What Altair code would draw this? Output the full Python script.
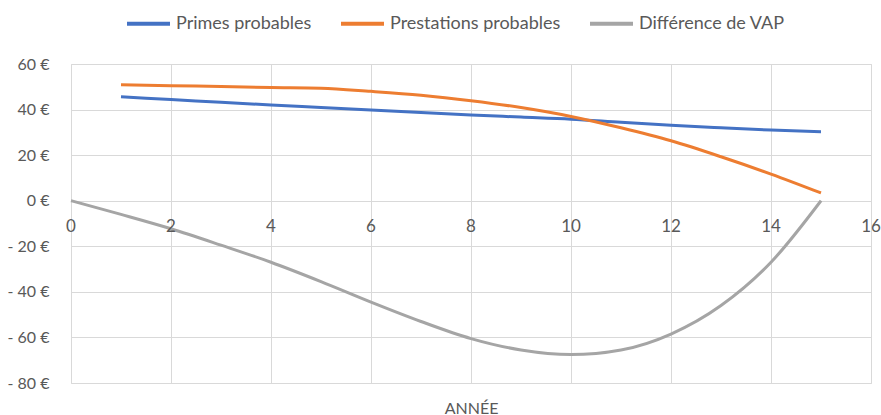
import altair as alt
import pandas as pd

years_p = list(range(1, 16))
primes = [45.6, 44.4, 43.2, 42.0, 40.9, 39.8, 38.7, 37.6, 36.7, 35.8, 34.4, 33.1, 32.0, 31.0, 30.3]
prestations = [50.9, 50.5, 50.1, 49.7, 49.4, 48.0, 46.3, 43.9, 40.9, 37.0, 32.0, 26.3, 19.3, 11.7, 3.4]
years_d = list(range(0, 16))
difference = [0, -6, -12.3, -19.5, -27, -35.5, -44.5, -53, -60.5, -65.5, -67.5, -65.5, -58.5, -46, -27, 0]
x_ticks = [0, 2, 4, 6, 8, 10, 12, 14, 16]
y_ticks = [-80, -60, -40, -20, 0, 20, 40, 60]

series = ["Primes probables", "Prestations probables", "Différence de VAP"]
colors = ["#4472C4", "#ED7D31", "#A5A5A5"]

rows = []
for x, v in zip(years_p, primes):
    rows.append({"annee": x, "valeur": v, "serie": series[0], "ordre": 0})
for x, v in zip(years_p, prestations):
    rows.append({"annee": x, "valeur": v, "serie": series[1], "ordre": 1})
for x, v in zip(years_d, difference):
    rows.append({"annee": x, "valeur": v, "serie": series[2], "ordre": 2})
df = pd.DataFrame(rows)
ticks_df = pd.DataFrame({"t": x_ticks, "label": [str(t) for t in x_ticks], "zero": [0] * len(x_ticks)})

FONT = "Lato"
GREY_TXT = "#595959"

x_scale = alt.Scale(domain=[0, 16], nice=False, zero=False)
y_scale = alt.Scale(domain=[-80, 60], nice=False)

lines = alt.Chart(df).mark_line(strokeWidth=3, interpolate="monotone").encode(
    x=alt.X("annee:Q", scale=x_scale,
            axis=alt.Axis(values=x_ticks, grid=True, labels=False, ticks=False, domain=False,
                          title="ANNÉE", titleFont=FONT, titleFontSize=16, titleFontWeight="normal",
                          titleColor=GREY_TXT, titlePadding=17, gridColor="#D9D9D9")),
    y=alt.Y("valeur:Q", scale=y_scale,
            axis=alt.Axis(values=y_ticks, grid=True, ticks=False, domain=False, title=None,
                          labelFont=FONT, labelFontSize=16, labelColor=GREY_TXT, labelPadding=22,
                          gridColor="#D9D9D9",
                          labelExpr="datum.value < 0 ? '- ' + abs(datum.value) + ' €' : datum.value + ' €'")),
    color=alt.Color("serie:N", scale=alt.Scale(domain=series, range=colors),
                    legend=alt.Legend(title=None, orient="none", direction="horizontal",
                                      legendX=54, legendY=-64, padding=0, symbolType="stroke",
                                      symbolSize=1849, symbolStrokeWidth=4, labelFont=FONT,
                                      labelFontSize=18, labelColor=GREY_TXT, labelOffset=4,
                                      labelLimit=400, columnPadding=21)),
    order=alt.Order("ordre:Q"),
    detail="serie:N",
)

xlabels = alt.Chart(ticks_df).mark_text(font=FONT, fontSize=17, color=GREY_TXT, dy=26, baseline="middle").encode(
    x=alt.X("t:Q", scale=x_scale),
    y=alt.Y("zero:Q", scale=y_scale),
    text="label:N",
)

chart = alt.layer(lines, xlabels).properties(
    width=800, height=319,
    padding={"left": 71, "top": 64, "right": 10, "bottom": 32},
    autosize=alt.AutoSizeParams(type="none"),
).configure_view(stroke=None).configure(background="white")

chart.save("out.html", embed_options={"renderer": "svg", "actions": False})
